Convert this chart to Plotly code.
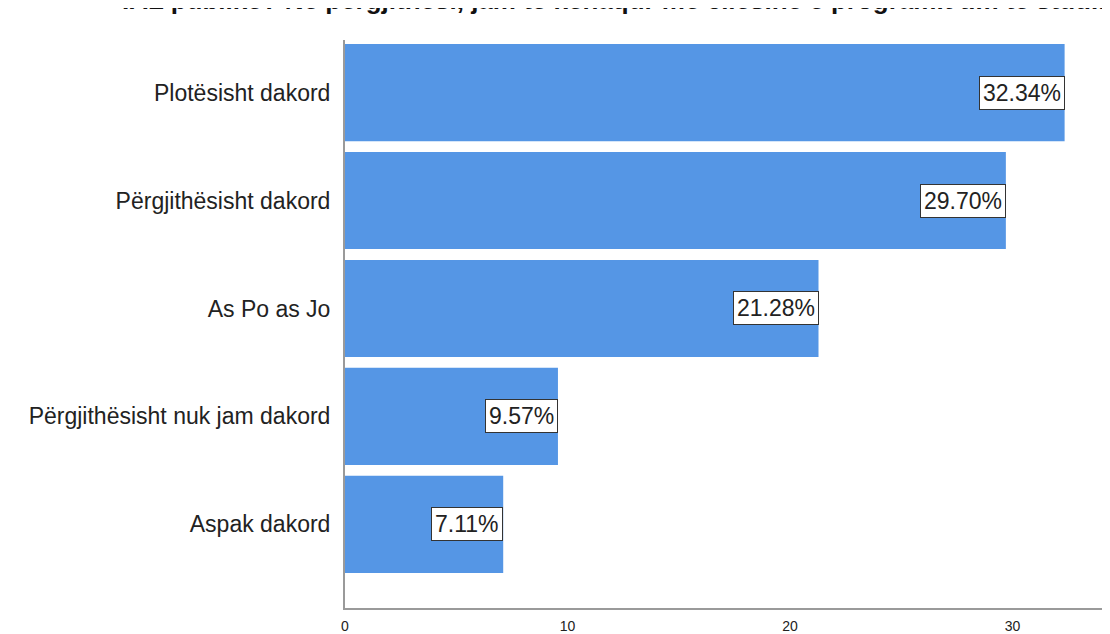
import plotly.graph_objects as go

categories = ["Plotësisht dakord", "Përgjithësisht dakord", "As Po as Jo",
              "Përgjithësisht nuk jam dakord", "Aspak dakord"]
values = [32.34, 29.70, 21.28, 9.57, 7.11]
x_ticks = [0, 10, 20, 30]
title_text = "IAL publike? Në përgjithësi, jam të kënaqur me cilësinë e programit tim të studimit"

pos = list(range(len(categories)))

fig = go.Figure(go.Bar(
    x=values, y=pos, orientation="h", width=0.9,
    marker=dict(color="#5596E5", line=dict(width=0)),
    hoverinfo="skip",
))

for v, p in zip(values, pos):
    fig.add_annotation(
        x=v, y=p, xref="x", yref="y", text=f"{v:.2f}%", showarrow=False,
        xanchor="right", yanchor="middle", bgcolor="white",
        bordercolor="#333333", borderwidth=1, borderpad=3,
        font=dict(family="Arial, Liberation Sans", size=23, color="#222222"),
    )

# title (cropped at the top edge as in the reference)
fig.add_annotation(
    text=title_text, xref="paper", yref="paper",
    x=(120 - 345) / 765, y=1 + 39.5 / 567, xanchor="left", yanchor="middle",
    showarrow=False,
    font=dict(family="Arial, Liberation Sans", size=26, color="#111111", weight="bold"),
)

fig.update_layout(
    width=1102, height=626,
    margin=dict(l=337, r=0, t=32, b=19),
    paper_bgcolor="white", plot_bgcolor="white",
    showlegend=False,
    font=dict(family="Arial, Liberation Sans"),
)
fig.update_xaxes(range=[0, 34.38], tickvals=x_ticks, showgrid=False, zeroline=False,
                 showline=True, linecolor="#9a9a9a", linewidth=2, ticks="",
                 ticklabelstandoff=4,
                 tickfont=dict(size=14, color="#222222"))
fig.update_yaxes(range=[4.775, -0.487], tickvals=pos, ticktext=categories,
                 showgrid=False, zeroline=False, showline=True, linecolor="#9a9a9a",
                 linewidth=2, ticks="", ticklabelstandoff=8,
                 tickfont=dict(size=23, color="#222222"))

fig.write_html("out.html")
